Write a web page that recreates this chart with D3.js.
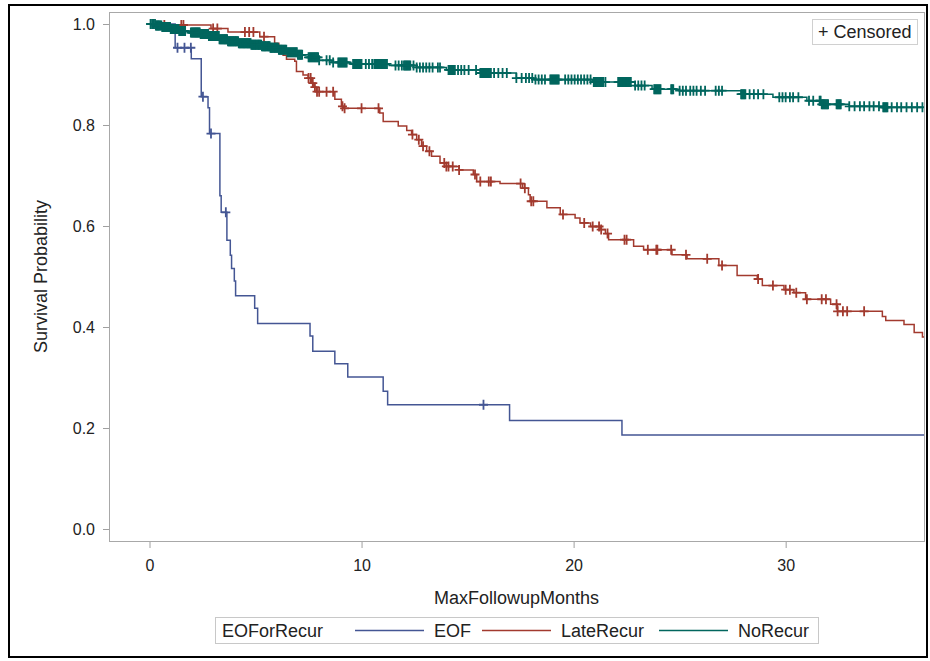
<!DOCTYPE html>
<html>
<head>
<meta charset="utf-8">
<script src="https://cdn.jsdelivr.net/npm/d3@7"></script>
<style>
  body { margin: 0; background: #fff; }
  text { font-family: "Liberation Sans", Arial, sans-serif; fill: #222; }
</style>
</head>
<body>
<svg id="chart" width="930" height="661"></svg>
<script>
var groups = ['EOF', 'LateRecur', 'NoRecur'];
var colors = ['#445694', '#A23A2E', '#01665E'];
var xTicks = [0, 10, 20, 30];
var yTicks = [0, 0.2, 0.4, 0.6, 0.8, 1.0];

// [month, survival] at each step
var eofSteps = [[0, 1], [1.21, 0.953], [1.97, 0.931], [2.44, 0.856], [2.76, 0.834], [2.83, 0.783],
  [3.32, 0.66], [3.38, 0.627], [3.65, 0.572], [3.81, 0.542], [3.87, 0.516], [4.0, 0.491],
  [4.06, 0.462], [4.96, 0.437], [5.1, 0.407], [7.57, 0.382], [7.7, 0.352], [8.74, 0.327],
  [9.35, 0.301], [11.02, 0.273], [11.23, 0.246], [16.98, 0.215], [22.28, 0.186], [36.6, 0.186]];
var eofCensored = [1.32, 1.65, 1.95, 2.52, 2.9, 3.6, 15.75];

var lateSteps = [[0, 1], [0.6, 0.998], [2.9, 0.991], [3.7, 0.984], [5.2, 0.975], [5.9, 0.962],
  [6.1, 0.948], [6.3, 0.938], [6.46, 0.93], [6.85, 0.926], [6.93, 0.906], [7.24, 0.899],
  [7.48, 0.893], [7.64, 0.883], [7.72, 0.875], [7.87, 0.866], [8.74, 0.851], [9.05, 0.837],
  [9.16, 0.833], [10.86, 0.824], [11.02, 0.807], [11.73, 0.798], [12.13, 0.789], [12.36, 0.781],
  [12.6, 0.771], [12.83, 0.758], [13.07, 0.748], [13.3, 0.738], [13.7, 0.725], [14.0, 0.718],
  [14.6, 0.711], [15.27, 0.702], [15.43, 0.688], [16.53, 0.684], [17.6, 0.675], [17.87, 0.662],
  [17.95, 0.649], [18.74, 0.636], [19.37, 0.623], [20.07, 0.616], [20.3, 0.606], [20.8, 0.599],
  [21.26, 0.593], [21.5, 0.585], [21.65, 0.573], [22.83, 0.56], [23.3, 0.553], [24.64, 0.543],
  [25.35, 0.535], [26.85, 0.522], [27.71, 0.502], [28.66, 0.495], [28.9, 0.482], [29.92, 0.474],
  [30.39, 0.468], [30.94, 0.455], [32.12, 0.445], [32.44, 0.431], [34.56, 0.421], [34.72, 0.413],
  [35.58, 0.405], [36.06, 0.389], [36.45, 0.38], [36.6, 0.38]];
var lateCensored = [0.7, 1.5, 1.6, 3.0, 3.2, 4.5, 4.7, 4.9, 5.4, 7.5, 7.6, 7.7, 7.8, 7.9, 8.0,
  8.35, 8.66, 9.1, 9.2, 10.0, 10.8, 12.4, 12.7, 12.9, 13.2, 13.9, 14.0, 14.1, 14.3, 14.6,
  15.35, 15.6, 16.0, 16.1, 17.5, 17.7, 18.0, 18.1, 19.5, 20.5, 20.9, 21.2, 21.3, 21.6, 22.4,
  22.5, 23.5, 23.9, 23.95, 24.6, 25.3, 26.3, 27.0, 28.7, 29.4, 30.0, 30.2, 30.5, 31.0, 31.7,
  31.9, 32.4, 32.45, 32.7, 32.9, 33.7];

var noSteps = [[0, 1], [0.3, 0.997], [0.6, 0.994], [1.0, 0.99], [1.4, 0.986], [1.9, 0.983],
  [2.4, 0.98], [2.8, 0.976], [3.3, 0.97], [3.7, 0.966], [4.2, 0.962], [4.8, 0.959], [5.3, 0.956],
  [5.7, 0.953], [6.1, 0.949], [6.5, 0.944], [7.0, 0.939], [7.5, 0.934], [8.0, 0.928],
  [8.6, 0.924], [9.5, 0.921], [11.3, 0.918], [12.6, 0.914], [14.0, 0.909], [15.6, 0.903],
  [17.3, 0.893], [18.1, 0.89], [20.9, 0.885], [22.9, 0.878], [23.7, 0.871], [25.0, 0.868],
  [27.9, 0.861], [29.4, 0.855], [31.0, 0.848], [31.7, 0.841], [33.0, 0.837], [34.6, 0.835],
  [36.6, 0.835]];
var noCensored = [0.05, 0.12, 0.17, 0.2, 0.26, 0.3, 0.33, 0.37, 0.4, 0.44, 0.47, 0.52, 0.56,
  0.6, 0.63, 0.66, 0.7, 0.73, 0.77, 0.8, 0.83, 0.86, 0.9, 0.93, 0.97, 1.0, 1.04, 1.07, 1.1,
  1.13, 1.17, 1.2, 1.24, 1.27, 1.3, 1.33, 1.37, 1.4, 1.43, 1.46, 1.5, 1.53, 1.57, 1.6, 1.64,
  1.68, 1.95, 1.99, 2.03, 2.06, 2.1, 2.14, 2.17, 2.2, 2.24, 2.27, 2.3, 2.34, 2.37, 2.41, 2.45,
  2.48, 2.52, 2.56, 2.6, 2.63, 2.66, 2.7, 2.73, 2.77, 2.8, 2.84, 2.87, 2.9, 2.94, 2.97, 3.0,
  3.04, 3.07, 3.1, 3.14, 3.17, 3.2, 3.24, 3.27, 3.3, 3.34, 3.38, 3.42, 3.46, 3.5, 3.53, 3.56,
  3.6, 3.63, 3.66, 3.7, 3.74, 3.77, 3.8, 3.84, 3.87, 3.9, 3.94, 3.97, 4.0, 4.04, 4.07, 4.1,
  4.14, 4.18, 4.21, 4.25, 4.28, 4.32, 4.36, 4.4, 4.43, 4.46, 4.5, 4.53, 4.57, 4.6, 4.64, 4.67,
  4.7, 4.74, 4.77, 4.8, 4.84, 4.88, 4.91, 4.95, 4.98, 5.02, 5.06, 5.1, 5.13, 5.16, 5.2, 5.23,
  5.27, 5.3, 5.34, 5.38, 5.41, 5.45, 5.48, 5.52, 5.56, 5.6, 5.63, 5.67, 5.7, 5.73, 5.77, 5.8,
  5.84, 5.88, 5.91, 5.95, 5.98, 6.02, 6.06, 6.1, 6.13, 6.17, 6.21, 6.25, 6.3, 6.35, 6.4, 6.45,
  6.5, 6.55, 6.6, 6.65, 6.7, 6.75, 6.8, 6.85, 6.9, 6.95, 7.0, 7.05, 7.1, 7.15, 7.2, 7.5, 7.55,
  7.6, 7.65, 7.7, 7.75, 7.8, 7.85, 7.9, 7.95, 8.0, 8.35, 8.5, 8.66, 8.9, 8.95, 9.0, 9.05, 9.1,
  9.15, 9.2, 9.25, 9.3, 9.6, 9.65, 9.7, 9.75, 9.8, 9.85, 9.9, 9.95, 10.0, 10.2, 10.35, 10.5,
  10.6, 10.65, 10.7, 10.75, 10.8, 10.85, 10.9, 10.95, 11.0, 11.05, 11.1, 11.15, 11.2, 11.6,
  11.75, 11.9, 12.0, 12.05, 12.1, 12.15, 12.2, 12.25, 12.3, 12.45, 12.6, 12.75, 12.9, 13.05,
  13.2, 13.35, 13.6, 13.7, 14.1, 14.15, 14.2, 14.25, 14.3, 14.35, 14.4, 14.55, 14.7, 14.85,
  15.05, 15.4, 15.6, 15.65, 15.7, 15.75, 15.8, 15.85, 15.9, 15.95, 16.0, 16.05, 16.1, 16.25,
  16.45, 16.65, 16.85, 17.3, 17.55, 17.75, 17.9, 18.05, 18.2, 18.35, 18.5, 18.65, 18.9, 18.95,
  19.0, 19.05, 19.1, 19.15, 19.2, 19.25, 19.3, 19.6, 19.75, 19.9, 20.05, 20.2, 20.35, 20.5,
  20.65, 20.8, 20.95, 21.0, 21.05, 21.1, 21.15, 21.2, 21.25, 21.3, 21.35, 21.4, 21.5, 22.1,
  22.15, 22.2, 22.25, 22.3, 22.35, 22.4, 22.45, 22.5, 22.55, 22.6, 22.65, 22.7, 22.9, 23.05,
  23.2, 23.35, 23.8, 23.85, 23.9, 23.95, 24.0, 24.05, 24.1, 24.6, 24.65, 24.7, 25.0, 25.15,
  25.3, 25.5, 25.65, 25.8, 26.0, 26.2, 26.7, 26.85, 27.0, 27.9, 27.95, 28.0, 28.05, 28.1,
  28.3, 28.5, 28.7, 28.95, 29.7, 29.85, 30.0, 30.2, 30.35, 30.6, 31.1, 31.3, 31.6, 31.65,
  31.7, 31.75, 31.8, 31.85, 31.9, 31.95, 32.0, 32.4, 32.45, 32.5, 32.55, 32.6, 33.0, 33.25,
  33.5, 33.7, 33.95, 34.15, 34.4, 34.6, 34.65, 34.7, 34.75, 34.8, 35.0, 35.25, 35.45, 35.7,
  35.95, 36.2, 36.45];

var series = [
  { name: groups[0], color: colors[0], steps: eofSteps, censored: eofCensored },
  { name: groups[1], color: colors[1], steps: lateSteps, censored: lateCensored },
  { name: groups[2], color: colors[2], steps: noSteps, censored: noCensored }
];

var frame = { left: 109, right: 924, top: 12, bottom: 541 };

var svg = d3.select('#chart');

var x = d3.scaleLinear().domain([0, 36.5]).range([149.5, 923.5]);
var y = d3.scaleLinear().domain([0, 1]).range([529, 24]);

// outer border
svg.append('rect')
  .attr('x', 9).attr('y', 5)
  .attr('width', 918).attr('height', 652)
  .attr('fill', 'none')
  .attr('stroke', '#000')
  .attr('stroke-width', 2);

svg.append('defs').append('clipPath')
  .attr('id', 'plotclip')
  .append('rect')
  .attr('x', frame.left).attr('y', frame.top)
  .attr('width', frame.right - frame.left)
  .attr('height', frame.bottom - frame.top);

// axes
var yAxis = svg.append('g')
  .attr('transform', 'translate(' + frame.left + ',0)')
  .call(d3.axisLeft(y).tickValues(yTicks).tickFormat(d3.format('.1f')).tickSize(6).tickPadding(8));

var xAxis = svg.append('g')
  .attr('transform', 'translate(0,' + frame.bottom + ')')
  .call(d3.axisBottom(x).tickValues(xTicks).tickFormat(d3.format('d')).tickSize(7).tickPadding(12));

[xAxis, yAxis].forEach(function (g) {
  g.select('.domain').remove();
  g.selectAll('.tick line').attr('stroke', '#a0a0a0');
  g.selectAll('.tick text')
    .attr('fill', '#222')
    .style('font-family', '"Liberation Sans", Arial, sans-serif')
    .style('font-size', '16px');
});

svg.append('rect')
  .attr('x', frame.left + 0.5).attr('y', frame.top + 0.5)
  .attr('width', frame.right - frame.left)
  .attr('height', frame.bottom - frame.top)
  .attr('fill', 'none')
  .attr('stroke', '#a8a8a8');

svg.append('text')
  .attr('x', (frame.left + frame.right) / 2)
  .attr('y', 604)
  .attr('text-anchor', 'middle')
  .style('font-size', '18px')
  .text('MaxFollowupMonths');

svg.append('text')
  .attr('transform', 'translate(46.5,' + ((frame.top + frame.bottom) / 2) + ') rotate(-90)')
  .attr('text-anchor', 'middle')
  .style('font-size', '18px')
  .text('Survival Probability');

// curves
var line = d3.line()
  .x(function (d) { return x(d[0]); })
  .y(function (d) { return y(d[1]); })
  .curve(d3.curveStepAfter);

var bisect = d3.bisector(function (d) { return d[0]; }).right;

function survAt(steps, t) {
  var i = bisect(steps, t) - 1;
  return steps[Math.max(i, 0)][1];
}

var plot = svg.append('g').attr('clip-path', 'url(#plotclip)');

series.forEach(function (s) {
  var g = plot.append('g');

  g.append('path')
    .datum(s.steps)
    .attr('d', line)
    .attr('fill', 'none')
    .attr('stroke', s.color)
    .attr('stroke-width', 1.5);

  g.selectAll('path.cens')
    .data(s.censored)
    .enter().append('path')
    .attr('class', 'cens')
    .attr('transform', function (t) {
      return 'translate(' + x(t) + ',' + y(survAt(s.steps, t)) + ')';
    })
    .attr('d', 'M-4.5,0H4.5M0,-5V5')
    .attr('fill', 'none')
    .attr('stroke', s.color)
    .attr('stroke-width', 1.8);
});

// censored inset
var inset = svg.append('g');
inset.append('rect')
  .attr('x', 812.5).attr('y', 19.5)
  .attr('width', 105).attr('height', 25)
  .attr('fill', '#fff')
  .attr('stroke', '#d0d0d0');
inset.append('text')
  .attr('x', 818).attr('y', 38)
  .style('font-size', '18px')
  .text('+ Censored');

// legend
var legend = svg.append('g');
legend.append('rect')
  .attr('x', 215.5).attr('y', 617.5)
  .attr('width', 603).attr('height', 26)
  .attr('fill', '#fff')
  .attr('stroke', '#c8c8c8');
legend.append('text')
  .attr('x', 222).attr('y', 637)
  .style('font-size', '18px')
  .text('EOForRecur');

var legendX = [355, 482, 659];
series.forEach(function (s, i) {
  legend.append('line')
    .attr('x1', legendX[i]).attr('x2', legendX[i] + 69)
    .attr('y1', 630.5).attr('y2', 630.5)
    .attr('stroke', s.color)
    .attr('stroke-width', 1.5);
  legend.append('text')
    .attr('x', legendX[i] + 79).attr('y', 637)
    .style('font-size', '18px')
    .text(s.name);
});
</script>
</body>
</html>
